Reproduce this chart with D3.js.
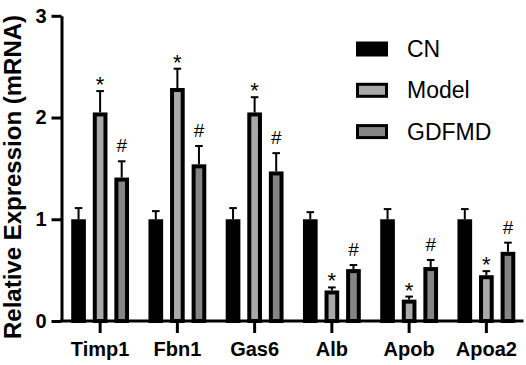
<!DOCTYPE html>
<html><head><meta charset="utf-8">
<script src="https://cdn.jsdelivr.net/npm/d3@7/dist/d3.min.js"></script>
<style>body{margin:0;background:#fff}svg{display:block}text{font-family:"Liberation Sans",Arial,sans-serif}</style>
</head><body><svg id="c" width="526" height="365"></svg>
<script>
const categories = ["Timp1","Fbn1","Gas6","Alb","Apob","Apoa2"];
const seriesNames = ["CN","Model","GDFMD"];
const cnValues    = [1.00,1.00,1.00,1.00,1.00,1.00];
const cnErrors    = [0.11,0.08,0.11,0.07,0.10,0.10];
const modelValues = [2.05,2.29,2.05,0.30,0.21,0.45];
const modelErrors = [0.21,0.19,0.15,0.03,0.03,0.04];
const gdfmdValues = [1.41,1.54,1.47,0.51,0.53,0.68];
const gdfmdErrors = [0.16,0.18,0.18,0.04,0.07,0.09];
const modelMarks  = ["*","*","*","*","*","*"];
const gdfmdMarks  = ["#","#","#","#","#","#"];
const yTicks = [0,1,2,3];
const fills = {CN:"#000000", Model:"#a9a9a9", GDFMD:"#858585"};

const svg = d3.select("#c");
const y = d3.scaleLinear().domain([0,3]).range([321,15.8]);
const x0 = d3.scaleBand().domain(categories).range([61.5,525]).padding(0);
const x1 = d3.scaleBand().domain(seriesNames).range([0,x0.bandwidth()]).paddingInner(0.32).paddingOuter(0.45);

const vals = {CN:cnValues, Model:modelValues, GDFMD:gdfmdValues};
const errs = {CN:cnErrors, Model:modelErrors, GDFMD:gdfmdErrors};
const marks = {Model:modelMarks, GDFMD:gdfmdMarks};

const data = [];
categories.forEach((c,i)=>seriesNames.forEach(s=>data.push({c,s,v:vals[s][i],e:errs[s][i],m:marks[s]?marks[s][i]:null})));

const g = svg.append("g");
const bw = x1.bandwidth();
// error bars
data.forEach(d=>{
  const cx = x0(d.c)+x1(d.s)+bw/2;
  g.append("line").attr("x1",cx).attr("x2",cx).attr("y1",y(d.v)).attr("y2",y(d.v+d.e)).attr("stroke","#000").attr("stroke-width",2);
  g.append("line").attr("x1",cx-3.8).attr("x2",cx+3.8).attr("y1",y(d.v+d.e)).attr("y2",y(d.v+d.e)).attr("stroke","#000").attr("stroke-width",2);
});
// bars
const sw = 4;
g.selectAll("rect.bar").data(data).join("rect")
  .attr("x",d=>x0(d.c)+x1(d.s)+sw/2)
  .attr("width",bw-sw)
  .attr("y",d=>y(d.v)+sw/2)
  .attr("height",d=>y(0)-y(d.v)-sw/2)
  .attr("fill",d=>fills[d.s]).attr("stroke","#000").attr("stroke-width",sw);
// marks
data.filter(d=>d.m).forEach(d=>{
  const cx = x0(d.c)+x1(d.s)+bw/2;
  const top = y(d.v+d.e);
  if(d.m==="*") g.append("text").attr("x",cx).attr("y",top+1).attr("text-anchor","middle").attr("font-size",22).text(d.m);
  else g.append("text").attr("x",cx).attr("y",top-9).attr("text-anchor","middle").attr("font-size",19).text(d.m);
});

// y axis
const yAxis = svg.append("g").attr("transform","translate(61.5,0)")
  .call(d3.axisLeft(y).tickValues(yTicks).tickSize(10).tickSizeOuter(0).tickFormat(d3.format("d")));
yAxis.select(".domain").attr("stroke-width",3);
yAxis.selectAll(".tick line").attr("stroke-width",3);
yAxis.selectAll(".tick text").attr("font-size",20).attr("font-weight","bold").attr("fill","#000").attr("x",-15).attr("font-family","Liberation Sans, Arial, sans-serif");

// x axis
const xAxis = svg.append("g").attr("transform","translate(0,321)")
  .call(d3.axisBottom(x0).tickSize(12).tickSizeOuter(0));
xAxis.select(".domain").attr("d","M60,0H523.5").attr("stroke-width",3);
xAxis.selectAll(".tick line").attr("stroke-width",3);
xAxis.selectAll(".tick text").attr("font-size",20).attr("font-weight","bold").attr("fill","#000").attr("y",21).attr("font-family","Liberation Sans, Arial, sans-serif");

// y title
svg.append("text").attr("transform","translate(21,177) rotate(-90)").attr("text-anchor","middle")
  .attr("font-size",24).attr("font-weight","bold").text("Relative Expression (mRNA)");

// legend
const lg = svg.append("g");
seriesNames.forEach((s,i)=>{
  const yy = 41.5 + i*41.3;
  lg.append("rect").attr("x",357.5).attr("y",yy+1.5).attr("width",29).attr("height",12).attr("fill",fills[s]).attr("stroke","#000").attr("stroke-width",3);
  lg.append("text").attr("x",407).attr("y",yy+15.5).attr("font-size",23).text(s);
});
</script></body></html>
